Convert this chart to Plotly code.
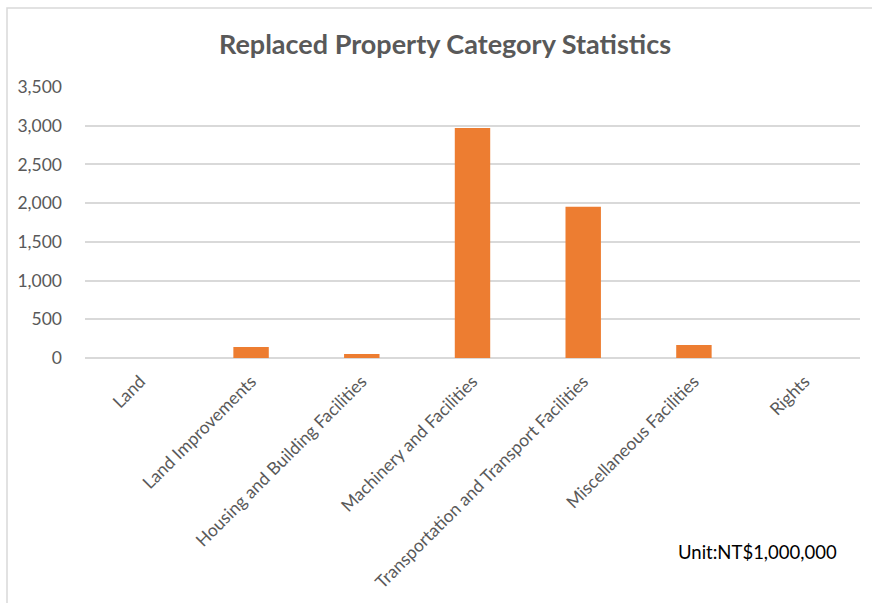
import plotly.graph_objects as go

categories = ["Land", "Land Improvements", "Housing and Building Facilities",
              "Machinery and Facilities", "Transportation and Transport Facilities",
              "Miscellaneous Facilities", "Rights"]
values = [0, 142, 52, 2972, 1955, 168, 0]
y_ticks = [0, 500, 1000, 1500, 2000, 2500, 3000, 3500]

W, H = 872, 603
L, R, T, B = 85, 12, 87, 245
pw = W - L - R
ph = H - T - B

fig = go.Figure()
fig.add_trace(go.Bar(x=categories, y=values, marker_color="#ED7D31",
                     marker_line_width=0))

fig.update_layout(
    width=W, height=H,
    margin=dict(l=L, r=R, t=T, b=B),
    paper_bgcolor="white", plot_bgcolor="white",
    bargap=0.68,
    showlegend=False,
    title=dict(text="<b>Replaced Property Category Statistics</b>",
               x=445 / W, xanchor="center", xref="container",
               y=1 - 45 / H, yanchor="middle",
               font=dict(family="Lato", size=27, color="#595959")),
    font=dict(family="Lato", color="#595959"),
)
fig.update_xaxes(tickangle=-45, tickfont=dict(size=17.5, color="#595959"),
                 showgrid=False, showline=False, ticks="", ticklabelstandoff=9)
fig.update_yaxes(range=[0, 3500], tickvals=y_ticks, tickformat=",",
                 tickfont=dict(size=17.5, color="#595959"),
                 showgrid=True, gridcolor="#d9d9d9", gridwidth=1.5,
                 zeroline=True, zerolinecolor="#d9d9d9", zerolinewidth=1.5,
                 showline=False, ticks="", ticklabelstandoff=22)

fig.add_annotation(text="Unit:NT$1,000,000", xref="paper", yref="paper",
                   x=(676 - L) / pw, y=(H - B - 552) / ph, xanchor="left",
                   yanchor="middle", showarrow=False,
                   font=dict(family="Lato", size=18.5, color="#000000"))

fig.add_shape(type="rect", xref="paper", yref="paper",
              x0=(7 - L) / pw, x1=(W + 10 - L) / pw,
              y0=(H - B - (H + 10)) / ph, y1=(H - B - 8) / ph,
              line=dict(color="#d9d9d9", width=1.5), layer="below")

fig.write_html("out.html")
